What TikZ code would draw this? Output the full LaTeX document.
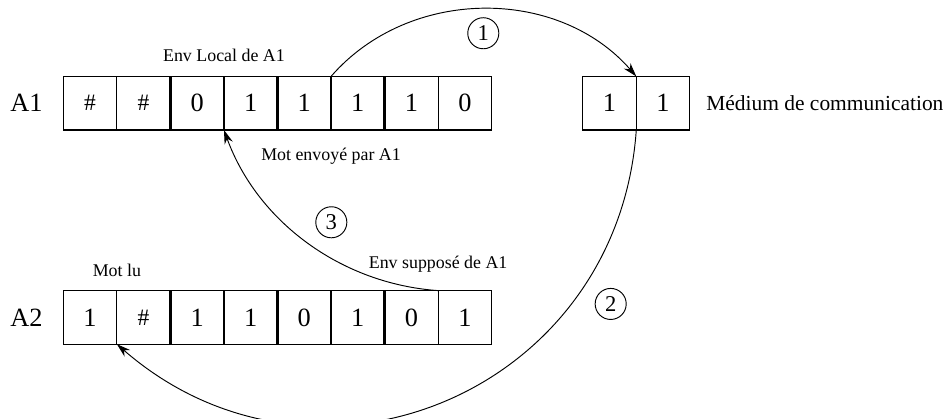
\documentclass[tikz,border=0pt]{standalone}
\usepackage{fontspec}
\setmainfont{Liberation Serif}
\usetikzlibrary{arrows.meta,positioning,calc}
\newcommand{\diese}{{\fontsize{12.5}{14}\selectfont\#}}

\begin{document}
\begin{tikzpicture}[
  case/.style={draw,line width=0.6pt,minimum width=1cm,minimum height=1cm,inner sep=0pt,outer sep=0pt,font=\fontsize{14}{16}\selectfont},
  separation/.style={line width=1.3pt},
  fleche/.style={-{Stealth[length=2.6mm,width=1.6mm]},line width=0.5pt},
  etiquette/.style={inner sep=0pt,font=\fontsize{9.5}{11}\selectfont},
  agent/.style={inner sep=0pt,font=\fontsize{14}{16}\selectfont},
  numero/.style={draw,circle,minimum size=0.58cm,inner sep=0pt,line width=0.5pt,font=\fontsize{12}{14}\selectfont}
]
\useasboundingbox (0,0) rectangle (17.647,7.824);

% environnement local de A1
\node[case] (a1c1) at (1.682,5.897) {\diese};
\node[case,right=0pt of a1c1] (a1c2) {\diese};
\node[case,right=0pt of a1c2] (a1c3) {0};
\node[case,right=0pt of a1c3] (a1c4) {1};
\node[case,right=0pt of a1c4] (a1c5) {1};
\node[case,right=0pt of a1c5] (a1c6) {1};
\node[case,right=0pt of a1c6] (a1c7) {1};
\node[case,right=0pt of a1c7] (a1c8) {0};

% medium
\node[case,right=1.7cm of a1c8] (medc1) {1};
\node[case,right=0pt of medc1] (medc2) {1};

% environnement de A2
\node[case,below=3cm of a1c1] (a2c1) {1};
\node[case,right=0pt of a2c1] (a2c2) {\diese};
\node[case,right=0pt of a2c2] (a2c3) {1};
\node[case,right=0pt of a2c3] (a2c4) {1};
\node[case,right=0pt of a2c4] (a2c5) {0};
\node[case,right=0pt of a2c5] (a2c6) {1};
\node[case,right=0pt of a2c6] (a2c7) {0};
\node[case,right=0pt of a2c7] (a2c8) {1};

\draw[separation] (a1c2.north east) -- (a1c2.south east);
\draw[separation] (a1c4.north east) -- (a1c4.south east);
\draw[separation] (a1c6.north east) -- (a1c6.south east);
\draw[separation] (a2c2.north east) -- (a2c2.south east);
\draw[separation] (a2c4.north east) -- (a2c4.south east);
\draw[separation] (a2c6.north east) -- (a2c6.south east);

% textes
\node[agent,left=0.38cm of a1c1] (nomA1) {A1};
\node[agent,left=0.38cm of a2c1] (nomA2) {A2};
\node[right=0.3cm of medc2,inner sep=0pt,font=\fontsize{11.4}{13}\selectfont] (medium) {Médium de communication};
\node[etiquette,above=0.283cm of a1c3.north east,anchor=base] (envlocal) {Env Local de A1};
\node[etiquette,below=0.574cm of a1c5.south east,anchor=base] (motenvoye) {Mot envoyé par A1};
\node[etiquette,above=0.261cm of a2c1.north east,anchor=base] (motlu) {Mot lu};
\node[etiquette,above=0.418cm of a2c7.north east,anchor=base] (envsuppose) {Env supposé de A1};

% etapes
\node[numero] (n1) at (9.025,7.203) {1};
\node[numero] (n2) at (11.404,2.148) {2};
\node[numero] (n3) at (6.187,3.673) {3};

\draw[fleche] (a1c5.north east) to[bend left=49] (medc1.north east);
\draw[fleche] (medc1.south east) to[out=-94,in=-41,looseness=1.2] (a2c1.south east);
\draw[fleche] (a2c7.north east) to[out=176,in=-70,looseness=0.93] (a1c3.south east);
\end{tikzpicture}
\end{document}
